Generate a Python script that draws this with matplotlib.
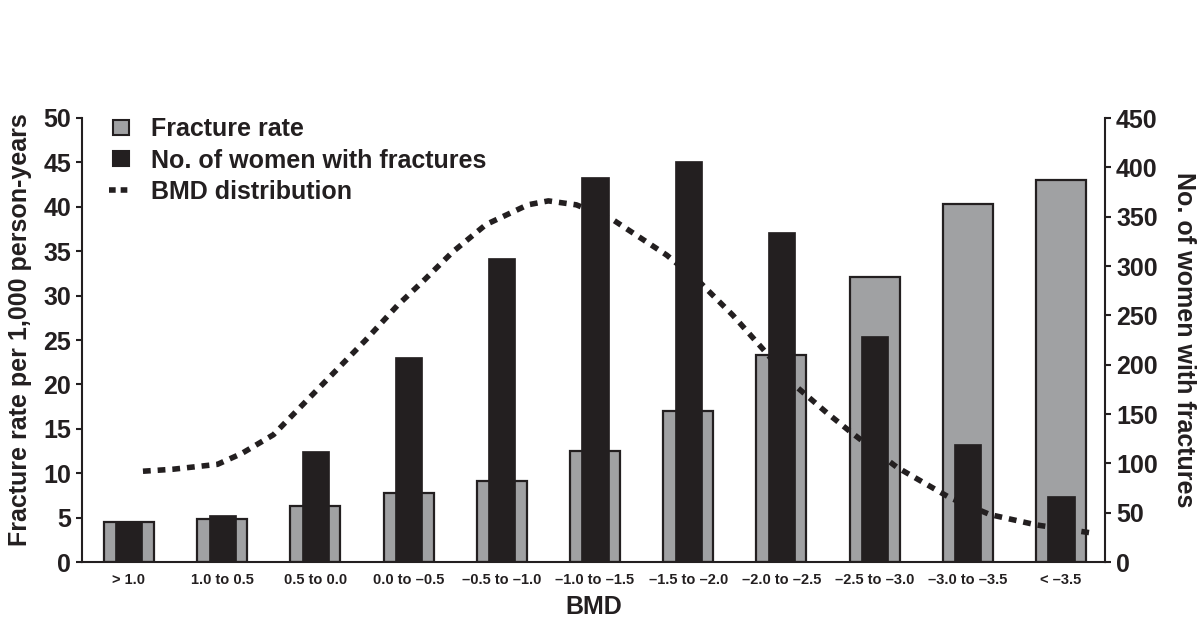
import matplotlib
matplotlib.use("Agg")
import matplotlib.pyplot as plt
from matplotlib.lines import Line2D
from matplotlib.patches import Rectangle, Patch
from matplotlib.legend_handler import HandlerBase
import numpy as np

# ---- data ----
categories = ["> 1.0", "1.0 to 0.5", "0.5 to 0.0", "0.0 to \u20130.5",
              "\u20130.5 to \u20131.0", "\u20131.0 to \u20131.5", "\u20131.5 to \u20132.0",
              "\u20132.0 to \u20132.5", "\u20132.5 to \u20133.0", "\u20133.0 to \u20133.5",
              "< \u20133.5"]
fracture_rate = [4.5, 4.8, 6.3, 7.8, 9.1, 12.5, 17.0, 23.3, 32.1, 40.3, 43.0]
women_with_fractures = [42, 48, 113, 208, 308, 390, 406, 334, 229, 120, 67]
# BMD distribution curve (read at positions along category axis, right-axis units)
bmd_x = [0.15, 0.47, 0.95, 1.21, 1.55, 1.88, 2.21, 2.54, 2.88, 3.17, 3.47, 3.83,
         4.28, 4.50, 4.80, 5.19, 5.48, 5.77, 6.13, 6.48, 6.80, 7.12, 7.49, 7.74,
         8.24, 8.81, 9.24, 9.74, 10.36]
bmd_y = [92, 94, 99, 110, 129, 161, 193, 225, 260, 286, 314, 342,
         362, 366, 362, 347, 329, 311, 283, 250, 216, 181, 151, 132,
         96, 65, 48, 37.5, 29]
left_ticks = list(range(0, 51, 5))
right_ticks = list(range(0, 451, 50))

# ---- style ----
INK = "#231f20"
GRAY = "#a0a1a3"
FONT = ["Liberation Sans", "DejaVu Sans"]
plt.rcParams["font.family"] = FONT
plt.rcParams["font.weight"] = "bold"

W, H = 1200, 624
fig = plt.figure(figsize=(W / 100, H / 100), dpi=100)
ax = fig.add_axes([82 / W, 62 / H, (1105 - 82) / W, 444 / H])
ax2 = ax.twinx()

x = np.arange(len(categories))
ax.bar(x, fracture_rate, width=0.536, color=GRAY, edgecolor=INK, linewidth=1.6, zorder=2)
ax2.bar(x, women_with_fractures, width=0.29, color=INK, edgecolor=INK, linewidth=0.5, zorder=2)
line, = ax2.plot(bmd_x, bmd_y, color=INK, linewidth=4.0, zorder=3)
line.set_dashes((1.4, 1.25))

ax.set_xlim(-0.504, 10.472)
ax.set_ylim(0, 50)
ax2.set_ylim(0, 450)
ax.set_yticks(left_ticks)
ax2.set_yticks(right_ticks)
ax.set_xticks(x)
ax.set_xticklabels(categories, fontsize=10.5, fontweight="bold", color=INK)

for a in (ax, ax2):
    a.spines["top"].set_visible(False)
    for s in a.spines.values():
        s.set_linewidth(1.5)
        s.set_color(INK)
ax.spines["right"].set_visible(False)
ax2.spines["left"].set_visible(False)
ax2.spines["bottom"].set_visible(False)

ax.tick_params(axis="y", length=4, width=1.5, pad=4, labelsize=18, colors=INK)
ax2.tick_params(axis="y", length=4, width=1.5, pad=4, labelsize=18, colors=INK)
ax.tick_params(axis="x", length=0, pad=8, colors=INK)
for lab in ax.get_yticklabels() + ax2.get_yticklabels():
    lab.set_fontweight("bold")

ax.set_ylabel("Fracture rate per 1,000 person-years", fontsize=18, fontweight="bold",
              color=INK)
ax.yaxis.set_label_coords((32 - 82) / (1105 - 82), (562 - 330) / 444)
ax2.set_ylabel("No. of women with fractures", fontsize=18, fontweight="bold",
               color=INK, rotation=270, va="bottom", labelpad=10)
ax.set_xlabel("BMD", fontsize=18, fontweight="bold", color=INK, labelpad=6)


class RightSquare(HandlerBase):
    def create_artists(self, legend, orig_handle, xdescent, ydescent, width, height,
                       fontsize, trans):
        s = 11.0
        r = Rectangle((width - xdescent - s, -ydescent + (height - s) / 2), s, s,
                      facecolor=orig_handle.get_facecolor(),
                      edgecolor=orig_handle.get_edgecolor(), linewidth=1.5,
                      transform=trans)
        return [r]


class RightLine(HandlerBase):
    def create_artists(self, legend, orig_handle, xdescent, ydescent, width, height,
                       fontsize, trans):
        L = 14.0
        y = -ydescent + height / 2
        ln = Line2D([width - xdescent - L, width - xdescent], [y, y], color=INK,
                    linewidth=4.0, transform=trans)
        ln.set_dashes((1.2, 0.9))
        return [ln]


h_rate = Patch(facecolor=GRAY, edgecolor=INK)
h_women = Patch(facecolor=INK, edgecolor=INK)
h_bmd = Line2D([], [], color=INK)
labels = ["Fracture rate", "No. of women with fractures", "BMD distribution"]
leg = ax2.legend([h_rate, h_women, h_bmd], labels, loc="upper left",
                 bbox_to_anchor=(95 / W, 1 - 117 / H),
                 bbox_transform=fig.transFigure, frameon=False, fontsize=18,
                 handlelength=1.35, handletextpad=0.9, labelspacing=0.3,
                 borderpad=0, borderaxespad=0,
                 handler_map={h_rate: RightSquare(), h_women: RightSquare(),
                              h_bmd: RightLine()})
for t in leg.get_texts():
    t.set_color(INK)
    t.set_fontweight("bold")

fig.savefig("out.png", dpi=100)
